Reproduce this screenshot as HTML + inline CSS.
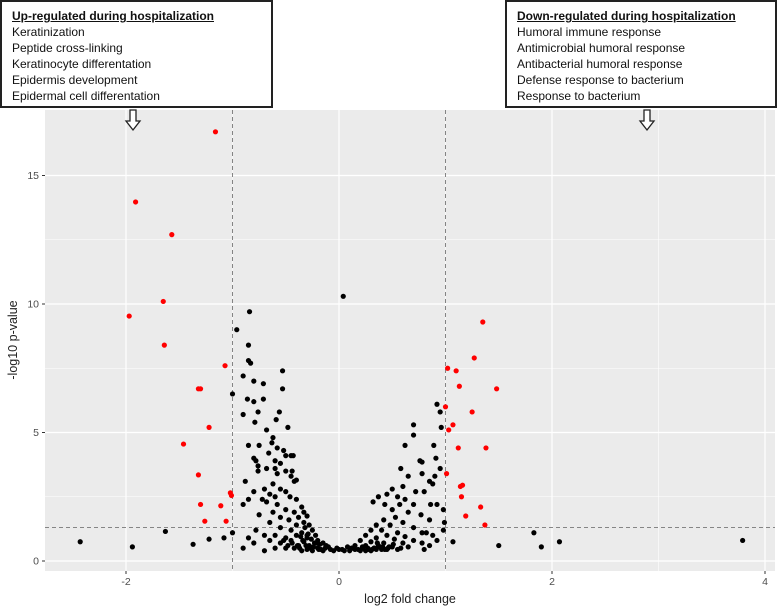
<!DOCTYPE html>
<html><head><meta charset="utf-8"><style>
body{margin:0;background:#fff;width:777px;height:612px;overflow:hidden;font-family:"Liberation Sans",sans-serif}
.box{position:absolute;top:0;height:108px;border:2px solid #222;background:#fff;font-family:"Liberation Sans Narrow","Liberation Sans",sans-serif;font-size:12px;line-height:16px;padding:6px 0 0 10px;box-sizing:border-box;color:#111}
.box b{text-decoration:underline}
</style></head><body>
<svg id="chart" width="777" height="612" style="position:absolute;left:0;top:0">
<rect x="45" y="110" width="730" height="461" fill="#ebebeb"/>
<g id="grid"></g><g id="dash"></g><g id="pts"></g><g id="axes"></g>
<text x="410" y="603" font-size="12.5" text-anchor="middle" fill="#222">log2 fold change</text>
<text transform="translate(17,340) rotate(-90)" font-size="12.5" text-anchor="middle" fill="#222">-log10 p-value</text>
<g transform="translate(133,110)"><path d="M-3,0 V11 H-7 L0,20 L7,11 H3 V0 Z" fill="#fff" stroke="#222" stroke-width="1.3"/></g>
<g transform="translate(647,110)"><path d="M-3,0 V11 H-7 L0,20 L7,11 H3 V0 Z" fill="#fff" stroke="#222" stroke-width="1.3"/></g>
</svg>
<div class="box" style="left:0;width:273px"><b>Up-regulated during hospitalization</b><br>Keratinization<br>Peptide cross-linking<br>Keratinocyte differentation<br>Epidermis development<br>Epidermal cell differentation</div>
<div class="box" style="left:505px;width:272px"><b>Down-regulated during hospitalization</b><br>Humoral immune response<br>Antimicrobial humoral response<br>Antibacterial humoral response<br>Defense response to bacterium<br>Response to bacterium</div>
<script>
const xTicks=[-2,0,2,4];
const yTicks=[0,5,10,15];
const xMinor=[-3,-1,1,3];
const yMinor=[2.5,7.5,12.5];
const redX=[-1.16,-1.91,-1.57,-1.65,-1.97,-1.64,-1.07,-1.32,-1.30,-1.22,-1.46,-1.32,-1.30,-1.11,-1.02,-1.01,-1.26,-1.06,1.35,1.27,1.02,1.10,1.13,1.48,1.00,1.25,1.07,1.03,1.12,1.38,1.14,1.16,1.15,1.33,1.19,1.37,1.01];
const redY=[16.7,13.97,12.7,10.1,9.53,8.4,7.6,6.7,6.7,5.2,4.55,3.35,2.2,2.15,2.65,2.55,1.55,1.55,9.3,7.9,7.5,7.4,6.8,6.7,6.0,5.8,5.3,5.1,4.4,4.4,2.9,2.95,2.5,2.1,1.75,1.4,3.4];
const blackX=[-2.43,-1.94,-1.63,-1.37,-1.22,-1.08,-1.0,1.07,1.5,1.83,1.9,2.07,3.79,0.04,
-0.84,-0.96,-0.85,-0.85,-0.83,-0.53,-0.9,-0.8,-0.71,-0.53,-1.0,-0.86,-0.8,-0.71,-0.9,-0.76,-0.56,-0.79,-0.59,-0.48,-0.68,
-0.62,-0.85,-0.75,-0.63,-0.58,-0.52,-0.66,-0.5,-0.45,-0.43,-0.8,-0.78,-0.6,-0.55,-0.76,-0.68,-0.6,-0.5,-0.44,-0.76,-0.58,-0.45,-0.42,-0.62,-0.88,-0.4,-0.7,-0.55,-0.8,-0.5,-0.65,-0.6,-0.72,-0.85,-0.46,-0.4,-0.68,-0.9,-0.58,-0.35,-0.5,-0.62,-0.42,-0.33,-0.75,-0.55,-0.38,-0.3,-0.47,-0.65,-0.4,-0.33,-0.28,-0.55,-0.78,-0.45,-0.35,-0.25,-0.6,-0.7,-0.4,-0.3,-0.5,-0.22,-0.85,-0.65,-0.45,-0.33,-0.2,-0.55,-0.8,-0.38,-0.28,-0.15,-0.9,-0.6,-0.5,-0.42,-0.3,-0.2,-0.1,-0.7,-0.35,-0.25,-0.15,-0.05,0.0,0.05,0.1,0.15,0.2,0.25,0.3,-0.12,0.08,-0.32,-0.36,-0.29,-0.26,-0.18,-0.37,-0.31,-0.27,-0.23,-0.19,-0.34,-0.3,-0.24,-0.21,-0.17,-0.13,-0.08,-0.02,0.03,0.12,0.18,0.22,0.28,0.33,-0.39,-0.44,-0.48,-0.52,
0.92,0.95,0.96,0.70,0.70,0.62,0.89,0.91,0.76,0.78,0.58,0.95,0.9,0.65,0.78,0.85,0.88,0.6,0.72,0.5,0.8,0.45,0.55,0.37,0.62,0.32,0.7,0.43,0.57,0.86,0.92,0.98,0.5,0.65,0.77,0.53,0.42,0.85,0.6,0.48,0.35,0.7,0.99,0.98,0.3,0.4,0.55,0.78,0.82,0.88,0.45,0.62,0.25,0.35,0.52,0.7,0.92,0.2,0.3,0.42,0.6,0.78,0.85,0.15,0.25,0.38,0.5,0.65,0.35,0.45,0.55,0.8,0.12,0.22,0.4,0.33,0.37,0.43,0.47,0.27,0.31,0.36,0.41,0.46,0.51,0.58];
const blackY=[0.75,0.55,1.15,0.65,0.85,0.9,1.1,0.75,0.6,1.1,0.55,0.75,0.8,10.3,
9.7,9.0,8.4,7.8,7.7,7.4,7.2,7.0,6.9,6.7,6.5,6.3,6.2,6.3,5.7,5.8,5.8,5.4,5.5,5.2,5.1,
4.8,4.5,4.5,4.6,4.4,4.3,4.2,4.1,4.1,4.1,4.0,3.9,3.9,3.8,3.7,3.6,3.6,3.5,3.5,3.5,3.4,3.3,3.1,3.0,3.1,3.15,2.8,2.8,2.7,2.7,2.6,2.5,2.4,2.4,2.5,2.4,2.3,2.2,2.2,2.1,2.0,1.9,1.9,1.9,1.8,1.7,1.7,1.75,1.6,1.5,1.4,1.5,1.4,1.3,1.2,1.2,1.1,1.2,1.0,1.0,1.0,0.9,0.9,1.0,0.9,0.8,0.8,0.75,0.8,0.7,0.7,0.6,0.6,0.7,0.5,0.5,0.5,0.5,0.45,0.5,0.55,0.4,0.4,0.4,0.4,0.4,0.45,0.4,0.4,0.45,0.4,0.4,0.4,0.6,0.55,1.3,0.95,1.05,0.85,0.65,0.5,0.6,0.5,0.7,0.45,0.8,1.0,0.55,0.7,0.45,0.5,0.45,0.5,0.45,0.5,0.45,0.5,0.45,0.5,0.6,0.7,0.6,0.8,
6.1,5.8,5.2,5.3,4.9,4.5,4.5,4.0,3.9,3.85,3.6,3.6,3.3,3.3,3.4,3.1,3.0,2.9,2.7,2.8,2.7,2.6,2.5,2.5,2.4,2.3,2.2,2.2,2.2,2.2,2.2,2.0,2.0,1.9,1.8,1.7,1.6,1.6,1.5,1.4,1.4,1.3,1.5,1.2,1.2,1.2,1.1,1.1,1.1,1.0,1.0,0.95,1.0,0.9,0.85,0.8,0.8,0.8,0.75,0.7,0.7,0.7,0.6,0.6,0.6,0.55,0.55,0.55,0.45,0.45,0.45,0.45,0.5,0.55,0.45,0.5,0.6,0.45,0.55,0.5,0.45,0.7,0.55,0.5,0.65,0.5];
const X0=339,XS=106.5,Y0=561,YS=25.7;
const sx=v=>X0+v*XS, sy=v=>Y0-v*YS;
const NS='http://www.w3.org/2000/svg';
function mk(parent,tag,attrs){const e=document.createElementNS(NS,tag);for(const k in attrs)e.setAttribute(k,attrs[k]);parent.appendChild(e);return e;}
const grid=document.getElementById('grid'),dash=document.getElementById('dash'),pts=document.getElementById('pts'),axes=document.getElementById('axes');
xMinor.forEach(v=>{const l=mk(grid,'line',{x1:sx(v),x2:sx(v),y1:110,y2:571,stroke:'#fff','stroke-width':0.6});

});
yMinor.forEach(v=>{const l=mk(grid,'line',{x1:45,x2:775,y1:sy(v),y2:sy(v),stroke:'#fff','stroke-width':0.6});

});
xTicks.forEach(v=>{const l=mk(grid,'line',{x1:sx(v),x2:sx(v),y1:110,y2:571,stroke:'#fff','stroke-width':1.2});


const t=mk(axes,'line',{x1:sx(v),x2:sx(v),y1:571,y2:574,stroke:'#333'});


const tx=mk(axes,'text',{x:sx(v),y:585,'font-size':10.5,'text-anchor':'middle',fill:'#4d4d4d'});tx.textContent=v;

});
yTicks.forEach(v=>{const l=mk(grid,'line',{x1:45,x2:775,y1:sy(v),y2:sy(v),stroke:'#fff','stroke-width':1.2});


const t=mk(axes,'line',{x1:42,x2:45,y1:sy(v),y2:sy(v),stroke:'#333'});


const tx=mk(axes,'text',{x:39,y:sy(v)+3.5,'font-size':10.5,'text-anchor':'end',fill:'#4d4d4d'});tx.textContent=v;

});
[-1,1].forEach(v=>{const l=mk(dash,'line',{x1:sx(v),x2:sx(v),y1:110,y2:571,stroke:'#777','stroke-dasharray':'4,3','stroke-width':0.9});

});
const hl=mk(dash,'line',{x1:45,x2:775,y1:sy(1.3),y2:sy(1.3),stroke:'#777','stroke-dasharray':'4,3','stroke-width':0.9});


blackX.forEach((v,i)=>{const c=mk(pts,'circle',{cx:sx(v),cy:sy(blackY[i]),r:2.6,fill:'#000'});

});
redX.forEach((v,i)=>{const c=mk(pts,'circle',{cx:sx(v),cy:sy(redY[i]),r:2.6,fill:'#f00'});

});
</script>
</body></html>
